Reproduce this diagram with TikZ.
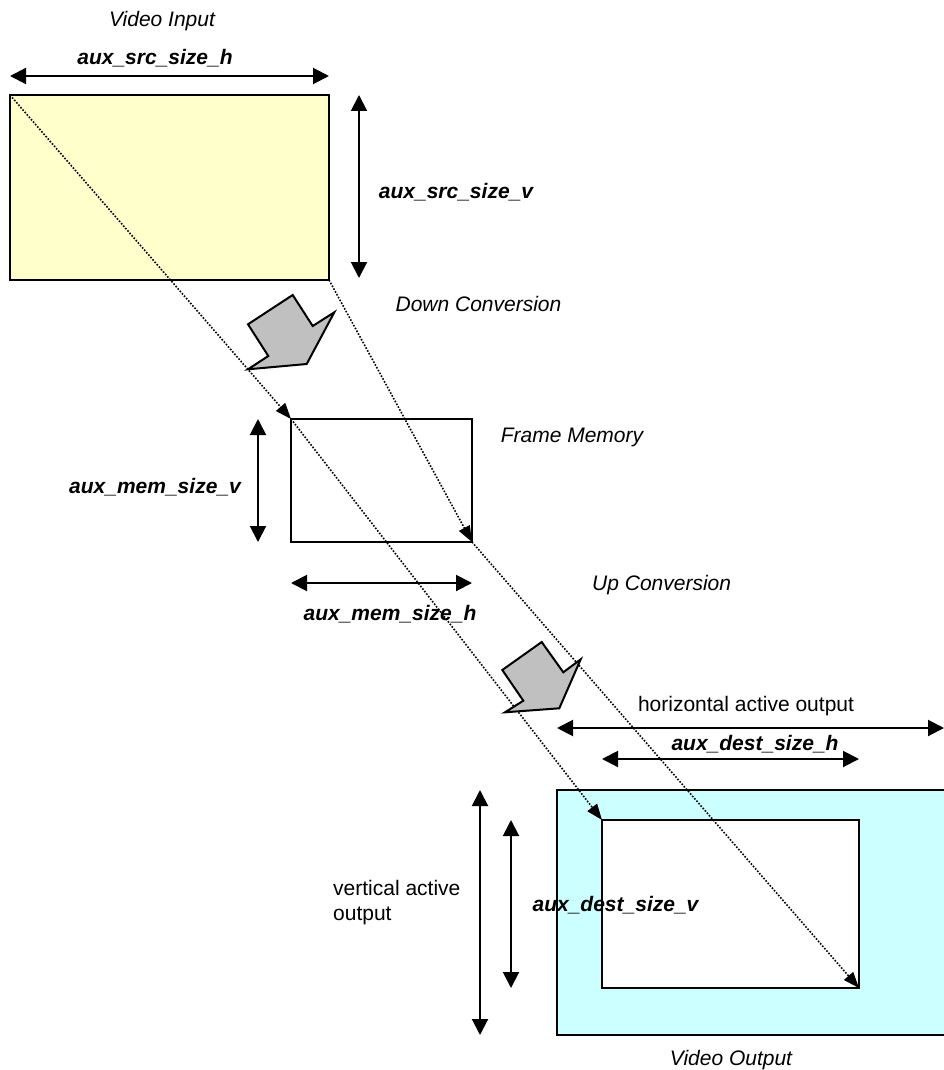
\documentclass[tikz,border=0pt]{standalone}
\usepackage{fontspec}
\setmainfont{Liberation Sans}
\usetikzlibrary{arrows.meta}
\definecolor{srcfill}{RGB}{255,255,204}
\definecolor{outfill}{RGB}{204,255,255}
\definecolor{blockgrey}{RGB}{192,192,192}
\tikzset{
  boxframe/.style={draw, line width=2pt, outer sep=0pt, inner sep=0pt, anchor=north west},
  dimarrow/.style={line width=2pt, {Triangle[length=16pt,width=16pt]}-{Triangle[length=16pt,width=16pt]}},
  flowline/.style={line width=1.6pt, dash pattern=on 1.6pt off 1.6pt, -{Triangle[length=16pt,width=12pt]}},
  blockarrow/.style={draw, line width=2pt, fill=blockgrey, line join=miter},
  plainlbl/.style={anchor=base, inner sep=0pt, font=\fontsize{21}{25}\selectfont},
  leftlbl/.style={anchor=base west, inner sep=0pt, font=\fontsize{21}{25}\selectfont},
  reglbl/.style={plainlbl, font=\fontsize{21}{25}\selectfont\bfseries\itshape},
  captionlbl/.style={plainlbl, font=\fontsize{21}{25}\selectfont\itshape},
}
\begin{document}
\begin{tikzpicture}[x=1pt, y=-1pt]
\useasboundingbox (0,0) rectangle (944,1070);

% frames
\node[boxframe, fill=srcfill, minimum width=319pt, minimum height=185pt] (src) at (10,95) {};
\node[boxframe, fill=white, minimum width=181pt, minimum height=123pt] (mem) at (291,419) {};
\node[boxframe, line width=1.6pt, fill=outfill, minimum width=388pt, minimum height=245pt] (out) at (557,790) {};
\node[boxframe, fill=white, minimum width=257pt, minimum height=168pt] (in) at (602,820) {};

% scaling paths
\draw[flowline] (src.north west) -- (mem.north west);
\draw[flowline] (src.south east) -- (mem.south east);
\draw[flowline] (mem.north west) -- (in.north west);
\draw[flowline] (mem.south east) -- (in.south east);

% dimension arrows
\draw[dimarrow] ([yshift=19pt]src.north west) -- ([yshift=19pt]src.north east);
\draw[dimarrow] ([xshift=30pt]src.north east) -- ([xshift=30pt,yshift=2pt]src.south east);
\draw[dimarrow] ([xshift=-33pt]mem.north west) -- ([xshift=-33pt]mem.south west);
\draw[dimarrow] ([yshift=-41pt]mem.south west) -- ([yshift=-41pt]mem.south east);
\draw[dimarrow] ([yshift=62pt]out.north west) -- ([yshift=62pt,xshift=-1pt]out.north east);
\draw[dimarrow] ([yshift=61pt]in.north west) -- ([yshift=61pt]in.north east);
\draw[dimarrow] ([xshift=-77pt]out.north west) -- ([xshift=-77pt]out.south west);
\draw[dimarrow] ([xshift=-91pt]in.north west) -- ([xshift=-91pt]in.south west);

% conversion block arrows
\draw[blockarrow] (248,324.3) -- (292.7,295) -- (312.7,326) -- (334.3,312.3)
  -- (306.7,364) -- (248,369.3) -- (268.3,356) -- cycle;
\draw[blockarrow] (502.3,670) -- (541.7,642) -- (563.3,672.3) -- (580.7,659.3)
  -- (559.3,708.3) -- (505,712.3) -- (523.3,700.7) -- cycle;

% labels
\node[captionlbl] (tin) at (162,27) {Video Input};
\node[reglbl] (lsh) at (155,65) {aux\_src\_size\_h};
\node[reglbl] (lsv) at (456,198) {aux\_src\_size\_v};
\node[captionlbl] (tdown) at (478.5,311.7) {Down Conversion};
\node[captionlbl] (tmem) at (572,442) {Frame Memory};
\node[reglbl] (lmv) at (155,493) {aux\_mem\_size\_v};
\node[reglbl] (lmh) at (390,620) {aux\_mem\_size\_h};
\node[leftlbl, font=\fontsize{21}{25}\selectfont\itshape] (tup) at (592,590) {Up Conversion};
\node[plainlbl] (lha) at (746,711.7) {horizontal active output};
\node[reglbl] (ldh) at (755,750) {aux\_dest\_size\_h};
\node[leftlbl] (lva1) at (333,895) {vertical active};
\node[leftlbl] (lva2) at (333,920) {output};
\node[reglbl] (ldv) at (615.5,911.7) {aux\_dest\_size\_v};
\node[captionlbl] (tout) at (731,1065) {Video Output};
\end{tikzpicture}
\end{document}
